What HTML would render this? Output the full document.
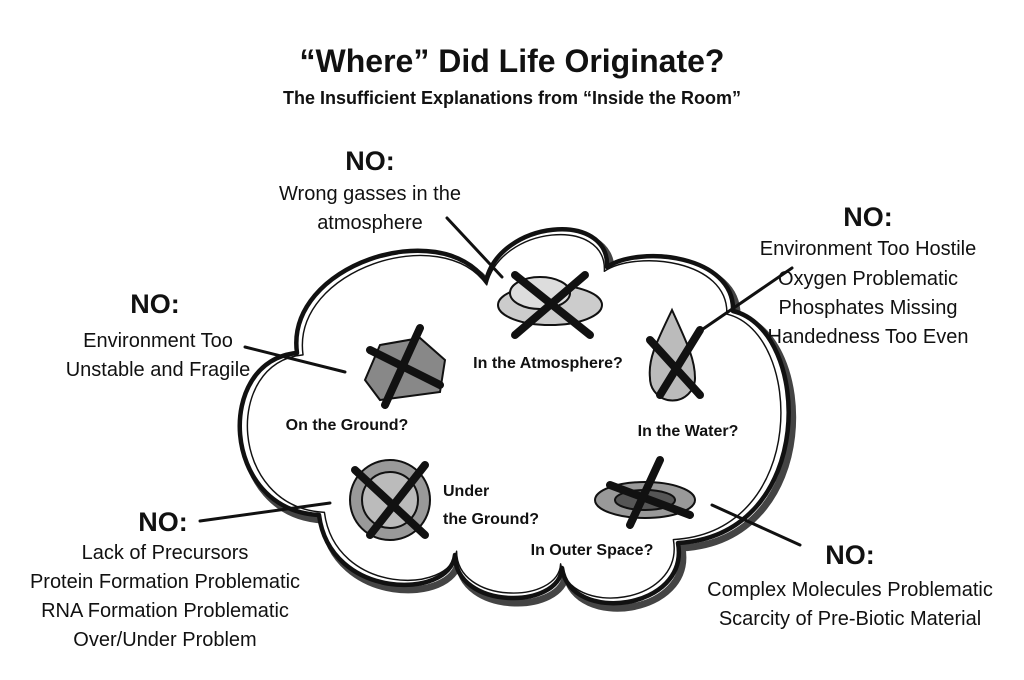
<!DOCTYPE html>
<html><head><meta charset="utf-8"><style>
html,body{margin:0;padding:0;background:#fff;}
svg{display:block}
text{font-family:"Liberation Sans",sans-serif;fill:#111;}
.t{font-weight:bold;font-size:32px}
.s{font-weight:bold;font-size:18px}
.no{font-weight:bold;font-size:27px}
.b{font-size:20px}
.c{font-weight:bold;font-size:16px}
</style></head><body>
<svg width="1024" height="680" viewBox="0 0 1024 680">
<defs>
<path id="cl" d="M297,353 C285,265 440,215 486,281 C500,220 610,210 607,267 C640,245 735,255 733,311 C812,330 818,535 678,543 C690,610 570,625 562,568 C560,610 455,610 455,555 C450,600 330,600 319,515 C220,510 215,360 297,353 Z"/>
</defs>
<text class="t" x="512" y="72" text-anchor="middle">“Where” Did Life Originate?</text>
<text class="s" x="512" y="104" text-anchor="middle">The Insufficient Explanations from “Inside the Room”</text>

<g fill="none" stroke-linejoin="round">
<use href="#cl" stroke="#444" stroke-width="7" transform="translate(4,5)"/>
<use href="#cl" stroke="#111" stroke-width="4.5" fill="#fff"/>
<use href="#cl" stroke="#111" stroke-width="1.5" transform="translate(512,420) scale(0.972) translate(-512,-420)"/>
</g>

<g stroke="#111" stroke-width="3" stroke-linecap="round">
<line x1="447" y1="218" x2="502" y2="277"/>
<line x1="792" y1="268" x2="703" y2="329"/>
<line x1="245" y1="347" x2="345" y2="372"/>
<line x1="200" y1="521" x2="330" y2="503"/>
<line x1="712" y1="505" x2="800" y2="545"/>
</g>

<g stroke="#111" stroke-width="2">
<ellipse cx="550" cy="305" rx="52" ry="20" fill="#ccc"/>
<ellipse cx="540" cy="293" rx="30" ry="16" fill="#ddd"/>
<path d="M365,380 L380,345 L420,338 L445,360 L440,392 L380,400 Z" fill="#888"/>
<path d="M672,310 C655,345 648,360 650,378 A22,22 0 0 0 695,378 C695,360 688,345 672,310 Z" fill="#bbb"/>
<circle cx="390" cy="500" r="40" fill="#999"/>
<circle cx="390" cy="500" r="28" fill="#bbb"/>
<ellipse cx="645" cy="500" rx="50" ry="18" fill="#999"/>
<ellipse cx="645" cy="500" rx="30" ry="10" fill="#555"/>
</g>
<g stroke="#111" stroke-width="8" stroke-linecap="round">
<line x1="515" y1="275" x2="590" y2="335"/><line x1="585" y1="275" x2="515" y2="335"/>
<line x1="370" y1="350" x2="440" y2="385"/><line x1="420" y1="328" x2="385" y2="405"/>
<line x1="650" y1="340" x2="700" y2="395"/><line x1="700" y1="330" x2="660" y2="395"/>
<line x1="355" y1="470" x2="425" y2="535"/><line x1="425" y1="465" x2="370" y2="535"/>
<line x1="610" y1="485" x2="690" y2="515"/><line x1="660" y1="460" x2="630" y2="525"/>
</g>

<g text-anchor="middle">
<text class="no" x="370" y="170">NO:</text>
<text class="b" x="370" y="200">Wrong gasses in the</text>
<text class="b" x="370" y="229">atmosphere</text>

<text class="no" x="868" y="226">NO:</text>
<text class="b" x="868" y="255">Environment Too Hostile</text>
<text class="b" x="868" y="285">Oxygen Problematic</text>
<text class="b" x="868" y="314">Phosphates Missing</text>
<text class="b" x="868" y="343">Handedness Too Even</text>

<text class="no" x="155" y="313">NO:</text>
<text class="b" x="158" y="347">Environment Too</text>
<text class="b" x="158" y="376">Unstable and Fragile</text>

<text class="no" x="163" y="531">NO:</text>
<text class="b" x="165" y="559">Lack of Precursors</text>
<text class="b" x="165" y="588">Protein Formation Problematic</text>
<text class="b" x="165" y="617">RNA Formation Problematic</text>
<text class="b" x="165" y="646">Over/Under Problem</text>

<text class="no" x="850" y="564">NO:</text>
<text class="b" x="850" y="596">Complex Molecules Problematic</text>
<text class="b" x="850" y="625">Scarcity of Pre-Biotic Material</text>

<text class="c" x="548" y="368">In the Atmosphere?</text>
<text class="c" x="347" y="430">On the Ground?</text>
<text class="c" x="688" y="436">In the Water?</text>
<text class="c" x="592" y="555">In Outer Space?</text>
</g>
<text class="c" x="443" y="496">Under</text>
<text class="c" x="443" y="524">the Ground?</text>
</svg>
</body></html>
